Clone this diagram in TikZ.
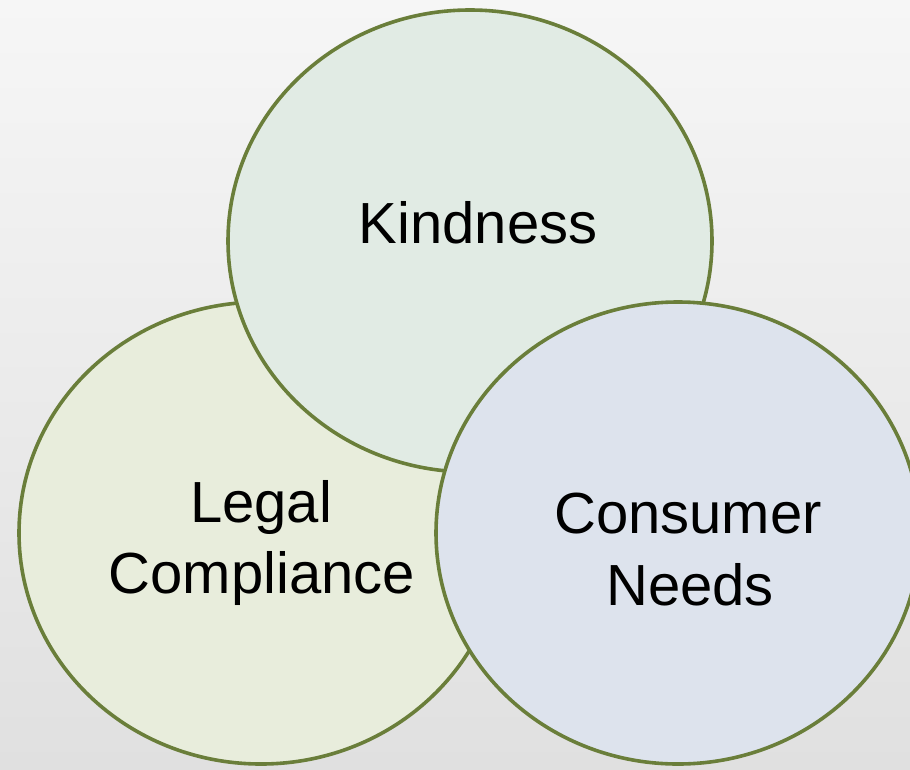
\documentclass[tikz,border=0pt]{standalone}
\usepackage{fontspec}
\setmainfont{Liberation Sans}
\usetikzlibrary{shapes.geometric}
\definecolor{bgtop}{HTML}{F6F6F6}
\definecolor{bgbot}{HTML}{E0E0E0}
\definecolor{edge}{HTML}{6A7E3A}
\definecolor{kindfill}{HTML}{E1EBE4}
\definecolor{legalfill}{HTML}{E8EDDC}
\definecolor{consfill}{HTML}{DDE3ED}
\tikzset{
  venn/.style={ellipse, draw=edge, line width=3.6pt, inner sep=0pt,
    minimum width=484pt, minimum height=462pt},
  lbl/.style={anchor=base, inner sep=0pt, font=\fontsize{58}{71}\selectfont, text=black}
}
\begin{document}
\begin{tikzpicture}[x=1pt, y=-1pt]
\useasboundingbox (0,0) rectangle (910,769);
\shade[top color=bgtop, bottom color=bgbot] (0,0) rectangle (910,769);
\begin{scope}
\clip (0,0) rectangle (910,769);
\node[venn, fill=legalfill] (legal) at (261,533) {};
\node[venn, fill=kindfill] (kind) at (470,241) {};
\node[venn, fill=consfill] (cons) at (678,533) {};
\end{scope}
\node[lbl] (kindT) at (478,243) {Kindness};
\node[lbl] (legalT1) at (261,522) {Legal};
\node[lbl] (legalT2) at (262,593) {Compliance};
\node[lbl] (consT1) at (688,533) {Consumer};
\node[lbl] (consT2) at (690,605) {Needs};
\end{tikzpicture}
\end{document}
